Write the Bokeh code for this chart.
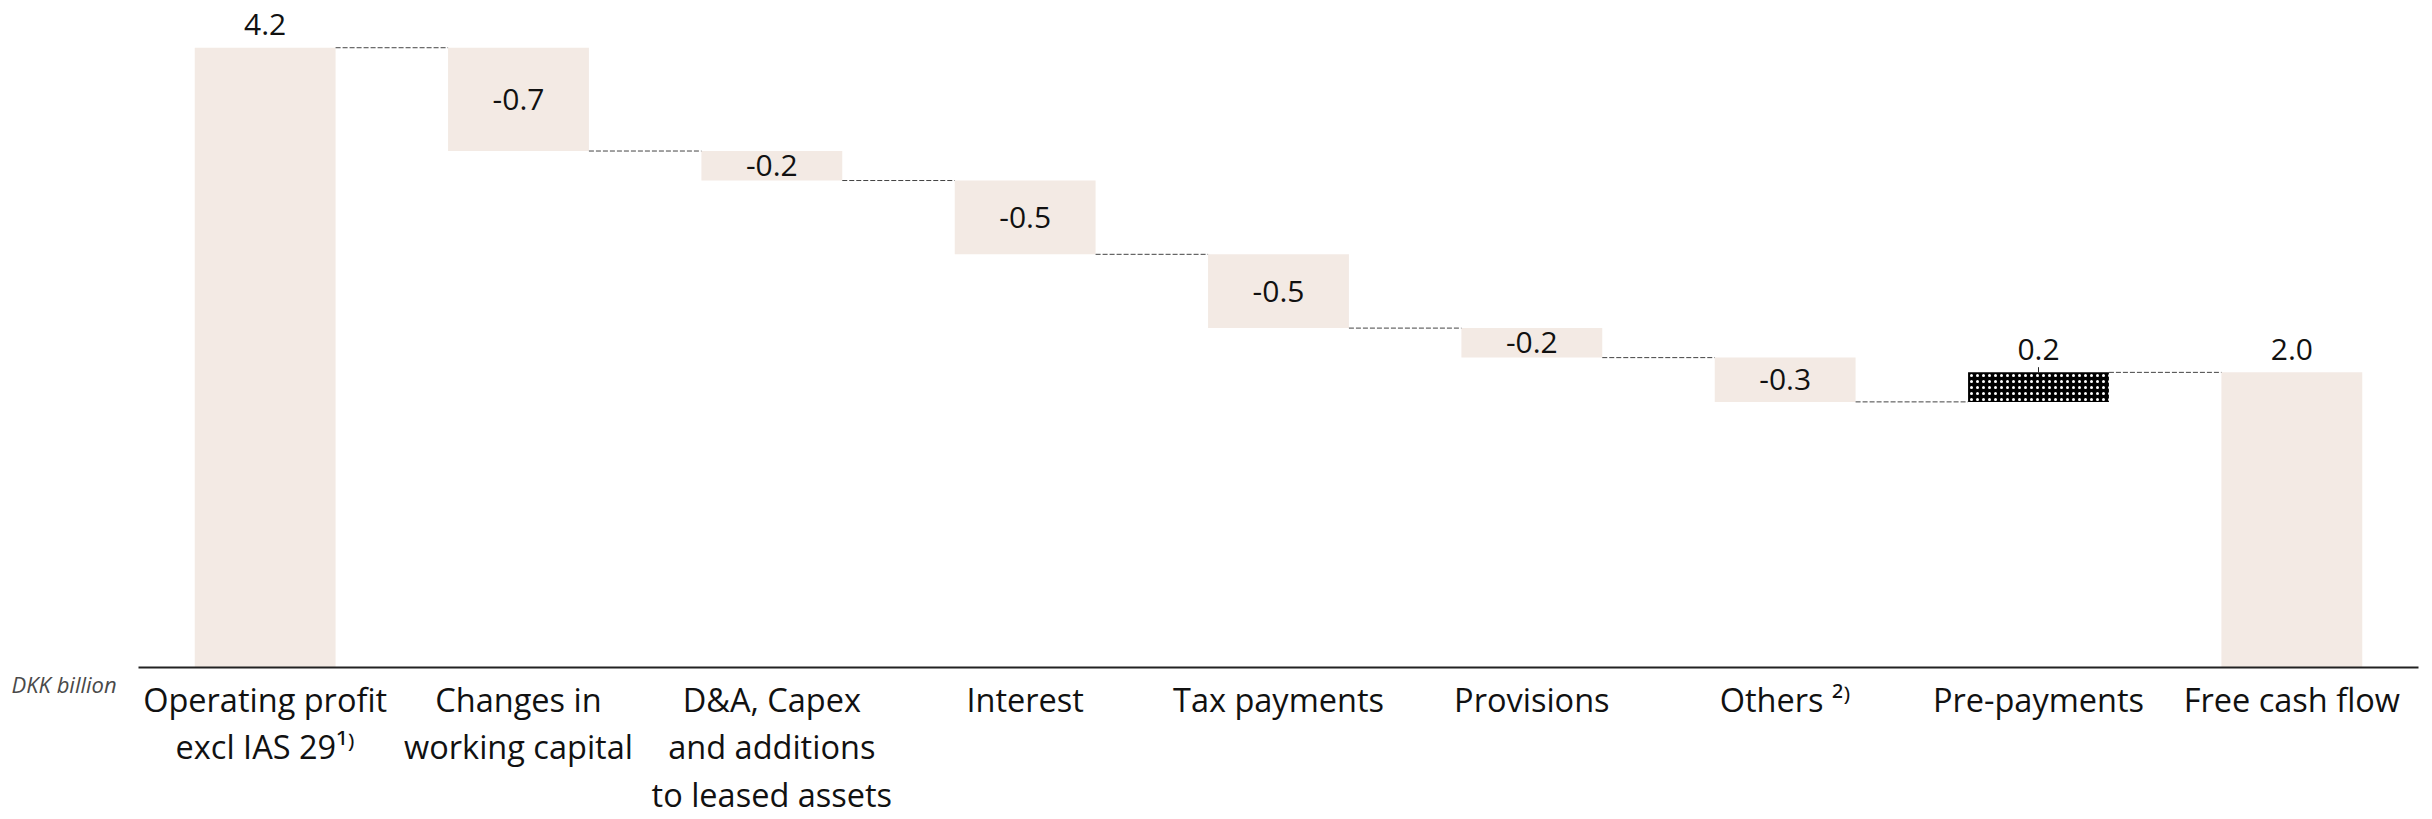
from bokeh.plotting import figure
from bokeh.models import FactorRange, Range1d, Label, ColumnDataSource
from bokeh.embed import file_html
from bokeh.resources import INLINE
from bokeh.core.properties import value

# ---------------- data ----------------
categories = [
    "Operating profit\nexcl IAS 29\u00b9\u207e",
    "Changes in\nworking capital",
    "D&A, Capex\nand additions\nto leased assets",
    "Interest",
    "Tax payments",
    "Provisions",
    "Others \u00b2\u207e",
    "Pre-payments",
    "Free cash flow",
]
values = [4.2, -0.7, -0.2, -0.5, -0.5, -0.2, -0.3, 0.2, 2.0]
kinds = ["total", "delta", "delta", "delta", "delta", "delta", "delta", "delta", "total"]
value_labels = ["4.2", "-0.7", "-0.2", "-0.5", "-0.5", "-0.2", "-0.3", "0.2", "2.0"]
unit_label = "DKK billion"

# ---------------- style ----------------
BAR_COLOR = "#F3EAE4"
HIGHLIGHT = "Pre-payments"
FONT = "Open Sans"
BAR_W = 0.556
Y_END = 4.52
LEADER = 0.035   # small leader tick above highlighted bar (data units)

# ---------------- waterfall geometry ----------------
bottoms, tops, levels = [], [], []
running = 0.0
for v, k in zip(values, kinds):
    if k == "total":
        b, t = 0.0, v
        running = v
    else:
        start = running
        running = running + v
        b, t = min(start, running), max(start, running)
    bottoms.append(b)
    tops.append(t)
    levels.append(running)

fills = ["black" if c == HIGHLIGHT else BAR_COLOR for c in categories]
hatches = ["dot" if c == HIGHLIGHT else " " for c in categories]

bars = ColumnDataSource(dict(x=categories, bottom=bottoms, top=tops,
                             fill=fills, hatch=hatches))

lab_out_x, lab_out_y, lab_out_t = [], [], []
lab_in_x, lab_in_y, lab_in_t = [], [], []
for c, v, b, t, s in zip(categories, values, bottoms, tops, value_labels):
    if v >= 0:
        lab_out_x.append(c); lab_out_y.append(t); lab_out_t.append(s)
    else:
        lab_in_x.append(c); lab_in_y.append((b + t) / 2); lab_in_t.append(s)

cx0, cx1, cy = [], [], []
for i in range(len(categories) - 1):
    cx0.append(i + 0.5 + BAR_W / 2)
    cx1.append(i + 1.5 - BAR_W / 2)
    cy.append(levels[i])

hi = categories.index(HIGHLIGHT)

p = figure(
    x_range=FactorRange(*categories, range_padding=0),
    y_range=Range1d(0, Y_END),
    width=2432, height=819,
    output_backend="svg", toolbar_location=None,
    min_border_left=138, min_border_right=14, min_border_top=0, min_border_bottom=100,
)
p.outline_line_color = None
p.xgrid.visible = False
p.ygrid.visible = False
p.yaxis.visible = False
p.background_fill_color = "white"
p.border_fill_color = "white"

p.vbar(x="x", bottom="bottom", top="top", width=BAR_W, source=bars,
       fill_color="fill", line_color=None,
       hatch_pattern="hatch", hatch_color="white", hatch_scale=6, hatch_weight=0.6)

p.segment(x0=cx0, y0=cy, x1=cx1, y1=cy, line_color="#444444",
          line_width=1, line_dash="5 2")

p.segment(x0=[categories[hi]], y0=[tops[hi]], x1=[categories[hi]],
          y1=[tops[hi] + LEADER], line_color="#222222", line_width=1)

p.text(x=lab_out_x, y=lab_out_y, text=lab_out_t, text_align="center",
       text_baseline="alphabetic", y_offset=-23,
       text_font=value(FONT), text_font_size="30px", text_color="#111111")
p.text(x=lab_in_x, y=lab_in_y, text=lab_in_t, text_align="center",
       text_baseline="middle",
       text_font=value(FONT), text_font_size="30px", text_color="#111111")

ax = p.xaxis[0]
ax.axis_line_color = "#222222"
ax.axis_line_width = 2
ax.major_tick_line_color = None
ax.minor_tick_line_color = None
ax.major_tick_out = 0
ax.major_tick_in = 0
ax.axis_label_standoff = 0
ax.major_label_text_font = FONT
ax.major_label_text_font_size = "32.5px"
ax.major_label_text_color = "#111111"
ax.major_label_text_line_height = 1.058
ax.major_label_standoff = 9
ax.major_label_orientation = "horizontal"

p.add_layout(Label(x=-0.501, y=-0.11, x_units="data", y_units="data",
                   text=unit_label, text_font=FONT,
                   text_font_size="22px", text_font_style="italic",
                   text_color="#4a4a4a", text_baseline="alphabetic"), "left")

open("out.html", "w").write(file_html(p, INLINE))
